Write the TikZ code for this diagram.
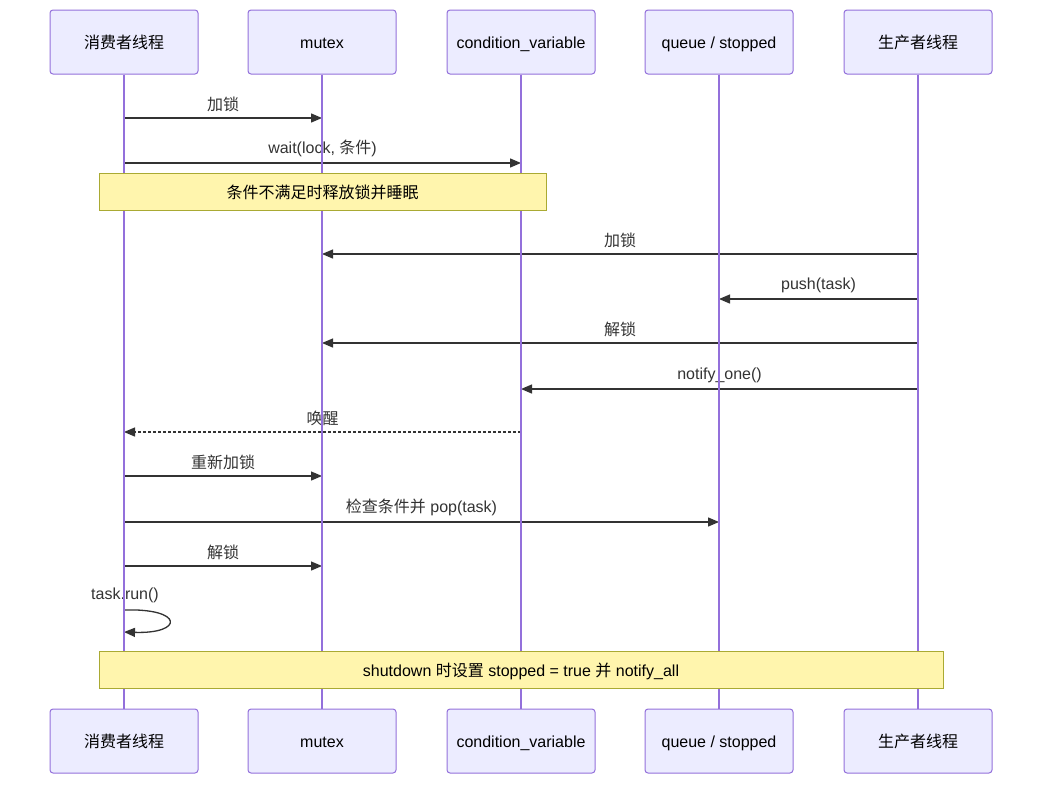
\documentclass[tikz,border=0pt]{standalone}
\usepackage{fontspec}
\setmainfont{Liberation Sans}
\newfontfamily\cjk{Noto Sans CJK SC}
\usetikzlibrary{arrows.meta}
\definecolor{lifec}{HTML}{9370DB}
\definecolor{actorf}{HTML}{ECECFF}
\definecolor{msgc}{HTML}{333333}
\definecolor{notef}{HTML}{FFF5AD}
\definecolor{notec}{HTML}{AAAA33}

\begin{document}
\begin{tikzpicture}[x=1pt,y=-1pt,line width=1pt,font=\fontsize{16}{19}\selectfont,
  actor/.style={draw=lifec,fill=actorf,rounded corners=3pt,minimum width=148pt,minimum height=64pt,inner sep=0pt,text height=13pt,text depth=0pt},
  life/.style={draw=lifec,line width=1.6pt},
  msg/.style={draw=msgc,line width=1.3pt,-{Triangle[length=11pt,width=9pt]}},
  reply/.style={msg,dash pattern=on 3pt off 2pt},
  lbl/.style={above=2pt,text=msgc},
  note/.style={draw=notec,fill=notef,minimum height=37pt,inner sep=0pt,text height=13pt,text depth=0pt}]
  \useasboundingbox (0,0) rectangle (1050,790);
  % actors
  \node[actor] (cT) at (124,42) {\cjk 消费者线程};
  \node[actor] (mT) at (322,42) {mutex};
  \node[actor] (vT) at (521,42) {condition\_variable};
  \node[actor] (qT) at (719,42) {queue / stopped};
  \node[actor] (pT) at (918,42) {\cjk 生产者线程};
  \node[actor] (cB) at (124,741) {\cjk 消费者线程};
  \node[actor] (mB) at (322,741) {mutex};
  \node[actor] (vB) at (521,741) {condition\_variable};
  \node[actor] (qB) at (719,741) {queue / stopped};
  \node[actor] (pB) at (918,741) {\cjk 生产者线程};
  % messages
  \draw[msg] (cT |- 0,118) -- node[lbl] {\cjk 加锁} (mT |- 0,118);
  \draw[msg] (cT |- 0,163) -- node[lbl] {wait(lock, {\cjk 条件})} (vT |- 0,163);
  \draw[msg] (pT |- 0,254) -- node[lbl] {\cjk 加锁} (mT |- 0,254);
  \draw[msg] (pT |- 0,299) -- node[lbl] {push(task)} (qT |- 0,299);
  \draw[msg] (pT |- 0,343) -- node[lbl] {\cjk 解锁} (mT |- 0,343);
  \draw[msg] (pT |- 0,389) -- node[lbl] {notify\_one()} (vT |- 0,389);
  \draw[reply] (vT |- 0,432) -- node[lbl] {\cjk 唤醒} (cT |- 0,432);
  \draw[msg] (cT |- 0,476) -- node[lbl] {\cjk 重新加锁} (mT |- 0,476);
  \draw[msg] (cT |- 0,522) -- node[lbl] {{\cjk 检查条件并} pop(task)} (qT |- 0,522);
  \draw[msg] (cT |- 0,566) -- node[lbl] {\cjk 解锁} (mT |- 0,566);
  \node[text=msgc] (run) at (125,595) {task.run()};
  \draw[msg] (cT |- 0,610) .. controls (184,608) and (184,634) .. (cT |- 0,632);
  % lifelines
  \foreach \a in {c,m,v,q,p}
    \draw[life] (\a T) -- (\a B);
  % notes
  \node[note,minimum width=447pt] (n1) at (322.5,192) {\cjk 条件不满足时释放锁并睡眠};
  \node[note,minimum width=844pt] (n2) at (521,669.5) {shutdown {\cjk 时设置} stopped = true {\cjk 并} notify\_all};
\end{tikzpicture}
\end{document}
